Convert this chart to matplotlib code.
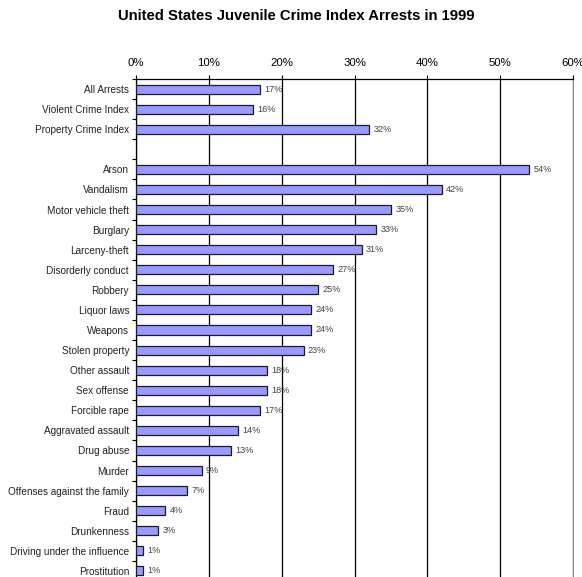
import matplotlib
matplotlib.use("Agg")
import matplotlib.pyplot as plt
import numpy as np

title = "United States Juvenile Crime Index Arrests in 1999"
summary_categories = ["All Arrests", "Violent Crime Index", "Property Crime Index"]
summary_values = [17, 16, 32]
offense_categories = ["Arson", "Vandalism", "Motor vehicle theft", "Burglary", "Larceny-theft",
                      "Disorderly conduct", "Robbery", "Liquor laws", "Weapons", "Stolen property",
                      "Other assault", "Sex offense", "Forcible rape", "Aggravated assault",
                      "Drug abuse", "Murder", "Offenses against the family", "Fraud",
                      "Drunkenness", "Driving under the influence", "Prostitution"]
offense_values = [54, 42, 35, 33, 31, 27, 25, 24, 24, 23, 18, 18, 17, 14, 13, 9, 7, 4, 3, 1, 1]
x_ticks = [0, 10, 20, 30, 40, 50, 60]

plt.rcParams['font.family'] = ['Liberation Sans', 'DejaVu Sans']

fig = plt.figure(figsize=(5.82, 5.77), dpi=100)
ax = fig.add_axes([136/582, 1 - 581/577, 437/582, 502/577])

n_sum = len(summary_categories)
pos_sum = np.arange(n_sum)
pos_off = np.arange(len(offense_categories)) + n_sum + 1
positions = np.concatenate([pos_sum, pos_off])
labels = summary_categories + offense_categories
values = summary_values + offense_values
total_slots = n_sum + 1 + len(offense_categories)

ax.barh(positions, values, height=0.45, color="#9999FF", edgecolor="#1a1a2a",
        linewidth=0.9, zorder=3)
for p, v in zip(positions, values):
    ax.text(v + 0.6, p, f"{v}%", va="center", ha="left", fontsize=6.6,
            color="#444444", zorder=4)

ax.set_xlim(0, 60)
ax.set_ylim(total_slots - 0.5, -0.5)
ax.set_xticks(x_ticks)
ax.set_xticklabels([f"{t}%" for t in x_ticks])
ax.xaxis.tick_top()
ax.tick_params(axis='x', which='major', length=3, width=0.8, labelsize=8.2, pad=5,
               colors="#000000")
ax.set_yticks(positions)
ax.set_yticklabels(labels, fontsize=7.2, color="#222222")
ax.tick_params(axis='y', which='major', length=0, pad=5)
ax.set_yticks(np.arange(total_slots + 1) - 0.5, minor=True)
ax.tick_params(axis='y', which='minor', length=3, width=0.8, direction='out')
ax.grid(axis='x', color='black', linewidth=0.9, zorder=0)
for s in ['left', 'top']:
    ax.spines[s].set_color('black')
    ax.spines[s].set_linewidth(0.9)
ax.spines['right'].set_color('#888888')
ax.spines['bottom'].set_visible(False)

fig.text(296/582, 1 - 16/577, title, ha='center', va='center', fontsize=10.7,
         fontweight='bold')

fig.savefig("out.png", dpi=100)
